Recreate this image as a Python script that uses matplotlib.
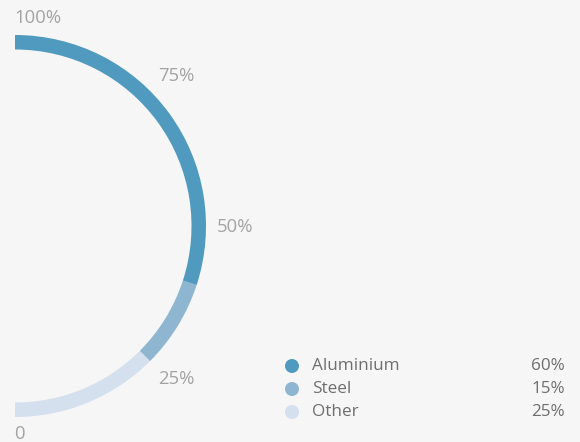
import matplotlib
matplotlib.use("Agg")
import matplotlib.pyplot as plt
from matplotlib.patches import Wedge, Circle

# data
names = ["Aluminium", "Steel", "Other"]
shares = [60, 15, 25]
colors = ["#4f9abe", "#8eb6d1", "#d4e0ee"]
tick_labels = ["0", "25%", "50%", "75%", "100%"]
tick_values = [0, 25, 50, 75, 100]

W, H = 580, 442
fig = plt.figure(figsize=(W / 100, H / 100), dpi=100, facecolor="#f6f6f6")
ax = fig.add_axes([0, 0, 1, 1])
ax.set_xlim(0, W)
ax.set_ylim(0, H)
ax.set_facecolor("#f6f6f6")
ax.axis("off")

plt.rcParams["font.family"] = ["Open Sans", "DejaVu Sans"]

cx, cy = 15, H - 226
R, thick = 191, 14.5

# arc goes from bottom (0) to top (100), drawn Other, Steel, Aluminium
start = -90.0
for name, val, col in zip(names[::-1], shares[::-1], colors[::-1]):
    end = start + val / 100 * 180
    ax.add_patch(Wedge((cx, cy), R, start, end, width=thick, color=col, lw=0))
    start = end

# tick labels round the arc
lab_pos = {0: (14, H - 434), 25: (158, H - 379), 50: (217, H - 227),
           75: (158, H - 76), 100: (14, H - 18)}
for t, v in zip(tick_labels, tick_values):
    x, y = lab_pos[v]
    ax.text(x, y, t, ha="left", va="center", fontsize=13.3, color="#a3a3a3")

# legend
ly = [366, 389, 412]
for name, val, col, y in zip(names, shares, colors, ly):
    ax.add_patch(Circle((292, H - y), 7, color=col, lw=0))
    ax.text(312, H - y, name, ha="left", va="center", fontsize=12.3, color="#6e6e6e")
    ax.text(565, H - y, f"{val}%", ha="right", va="center", fontsize=12.3, color="#6e6e6e")

fig.savefig("out.png", dpi=100, facecolor=fig.get_facecolor())
